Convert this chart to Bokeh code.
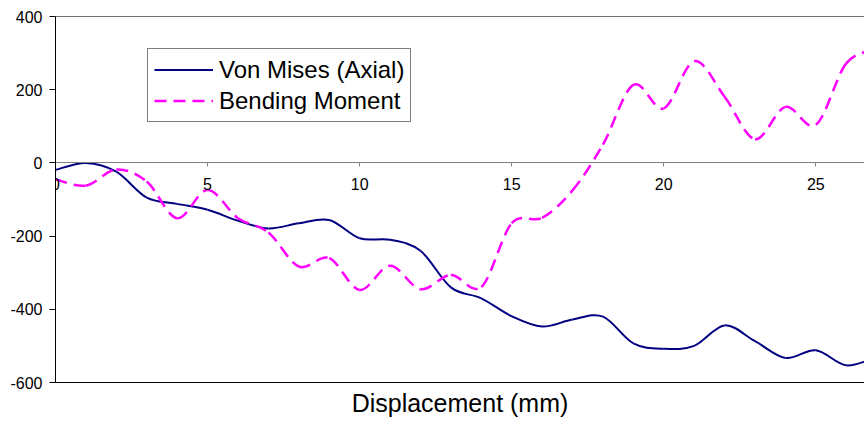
import numpy as np
from bokeh.plotting import figure
from bokeh.models import (LinearAxis, FixedTicker, Range1d, Legend, LegendItem,
                          ColumnDataSource)
from bokeh.embed import file_html
from bokeh.resources import INLINE

# ---- data ----
displacement = list(range(28))
von_mises = [-19, 0, -24, -95, -112, -128, -158, -179, -165, -156,
             -206, -210, -240, -340, -370, -419, -447, -428, -420, -493,
             -508, -500, -444, -487, -533, -512, -553, -530]
bending = [-45, -62, -18, -51, -151, -74, -151, -190, -283, -260,
           -347, -281, -345, -306, -339, -165, -150, -75, 50, 213,
           149, 278, 181, 65, 153, 104, 272, 310]
y_ticks = [-600, -400, -200, 0, 200, 400]
y_tick_labels = ["-600", "-400", "-200", "0", "200", "400"]
x_ticks = [0, 5, 10, 15, 20, 25]
x_label = "Displacement (mm)"
names = ["Von Mises (Axial)", "Bending Moment"]

FONT = "Liberation Sans"


def smooth_segments(x, y):
    """Cubic Bezier segments (Excel-style smoothed line) through the data."""
    x = np.asarray(x, float)
    y = np.asarray(y, float)
    n = len(x)
    xp = np.concatenate([[x[0]], x, [x[-1]]])
    yp = np.concatenate([[y[0]], y, [y[-1]]])
    cx0 = xp[1:n] + (xp[2:n + 1] - xp[0:n - 1]) / 6
    cy0 = yp[1:n] + (yp[2:n + 1] - yp[0:n - 1]) / 6
    cx1 = xp[2:n + 1] - (xp[3:n + 2] - xp[1:n]) / 6
    cy1 = yp[2:n + 1] - (yp[3:n + 2] - yp[1:n]) / 6
    return ColumnDataSource(dict(x0=x[:-1], y0=y[:-1], x1=x[1:], y1=y[1:],
                                 cx0=cx0, cy0=cy0, cx1=cx1, cy1=cy1))


p = figure(width=864, height=433,
           x_range=Range1d(0, 26.6), y_range=Range1d(-600, 400),
           output_backend="svg", toolbar_location=None,
           x_axis_location=None, y_axis_location=None,
           min_border_left=55, min_border_right=0,
           min_border_top=16, min_border_bottom=51)
p.outline_line_color = None
p.xgrid.visible = False
p.ygrid.visible = False
p.background_fill_color = "white"
p.border_fill_color = "white"

# left value axis
yax = LinearAxis(ticker=FixedTicker(ticks=y_ticks))
yax.major_label_overrides = {t: s for t, s in zip(y_ticks, y_tick_labels)}
yax.axis_line_color = "black"
yax.major_tick_line_color = "black"
yax.major_tick_out = 6
yax.major_tick_in = 0
yax.minor_tick_line_color = None
yax.major_label_standoff = 7
yax.major_label_text_font = FONT
yax.major_label_text_font_size = "16px"
yax.major_label_text_color = "black"
p.add_layout(yax, "left")

# top border of the plot area
tax = LinearAxis(ticker=FixedTicker(ticks=[]))
tax.axis_line_color = "#707070"
tax.major_tick_line_color = None
tax.minor_tick_line_color = None
tax.major_label_text_font_size = "0px"
p.add_layout(tax, "above")

# bottom border with axis title
bax = LinearAxis(ticker=FixedTicker(ticks=[]), axis_label=x_label)
bax.axis_line_color = "black"
bax.major_tick_line_color = None
bax.minor_tick_line_color = None
bax.major_label_text_font_size = "0px"
bax.axis_label_text_font = FONT
bax.axis_label_text_font_size = "25px"
bax.axis_label_text_font_style = "normal"
bax.axis_label_text_color = "black"
bax.axis_label_standoff = 6
p.add_layout(bax, "below")

# category axis crossing at y = 0
zax = LinearAxis(ticker=FixedTicker(ticks=x_ticks), fixed_location=0)
zax.axis_line_color = "#808080"
zax.major_tick_line_color = "#808080"
zax.major_tick_out = 4
zax.major_tick_in = 0
zax.minor_tick_line_color = None
zax.major_label_standoff = 11
zax.major_label_text_font = FONT
zax.major_label_text_font_size = "16px"
zax.major_label_text_color = "black"
p.add_layout(zax, "below")

src_vm = smooth_segments(displacement, von_mises)
src_bm = smooth_segments(displacement, bending)

r_vm = p.bezier(x0="x0", y0="y0", x1="x1", y1="y1", cx0="cx0", cy0="cy0",
                cx1="cx1", cy1="cy1", source=src_vm,
                line_color="#000080", line_width=2)
r_bm = p.bezier(x0="x0", y0="y0", x1="x1", y1="y1", cx0="cx0", cy0="cy0",
                cx1="cx1", cy1="cy1", source=src_bm,
                line_color="#FF00FF", line_width=2.5, line_dash="12 7")

legend = Legend(items=[LegendItem(label=names[0], renderers=[r_vm]),
                       LegendItem(label=names[1], renderers=[r_bm])],
                location=(92, 260), margin=0, padding=6, spacing=2,
                glyph_width=59, glyph_height=29, label_height=29,
                label_standoff=6, label_text_font=FONT,
                label_text_font_size="24px", label_text_color="black",
                border_line_color="black", border_line_width=1,
                background_fill_color="white", background_fill_alpha=1)
p.add_layout(legend)

open("out.html", "w").write(file_html(p, INLINE))
